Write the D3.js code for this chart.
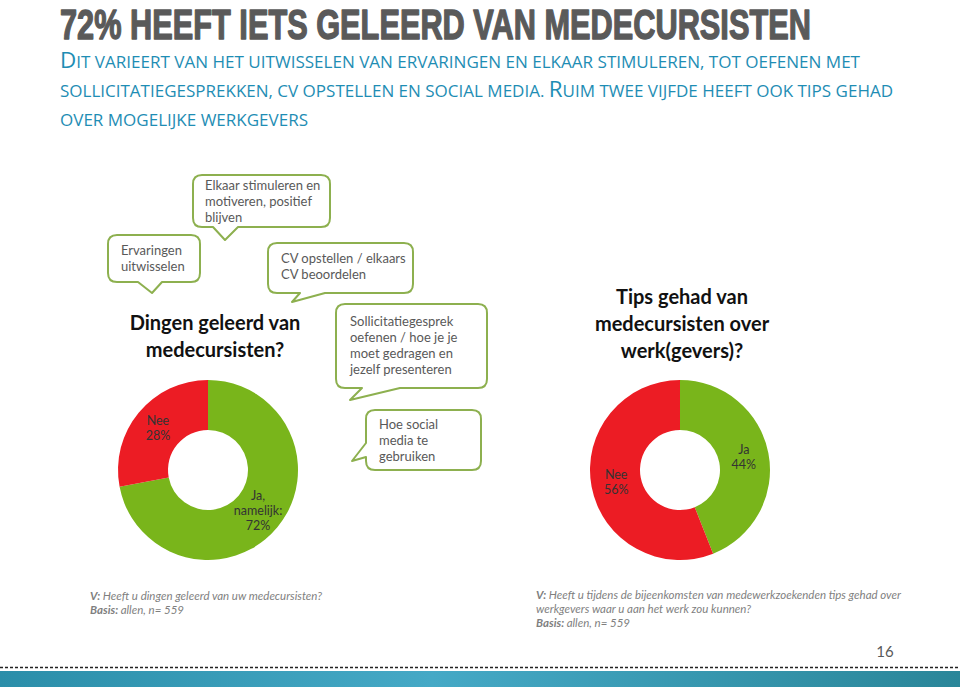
<!DOCTYPE html>
<html><head><meta charset="utf-8">
<script src="https://cdn.jsdelivr.net/npm/d3@7"></script>
<style>
html,body{margin:0;padding:0;background:#fff;}
svg{display:block;}
</style></head>
<body>
<svg id="chart" width="960" height="687"></svg>
<script>
// ---------- DATA ----------
const title = "72% HEEFT IETS GELEERD VAN MEDECURSISTEN";
const subtitleLines = [
  "Dit varieert van het uitwisselen van ervaringen en elkaar stimuleren, tot oefenen met",
  "sollicitatiegesprekken, cv opstellen en social media. Ruim twee vijfde heeft ook tips gehad",
  "over mogelijke werkgevers"
];
const donut1Categories = ["Ja, namelijk:", "Nee"];
const donut1Values = [72, 28];
const donut2Categories = ["Ja", "Nee"];
const donut2Values = [44, 56];
const donut1Title = ["Dingen geleerd van", "medecursisten?"];
const donut2Title = ["Tips gehad van", "medecursisten over", "werk(gevers)?"];
const calloutTexts = [
  ["Elkaar stimuleren en", "motiveren, positief", "blijven"],
  ["Ervaringen", "uitwisselen"],
  ["CV opstellen / elkaars", "CV beoordelen"],
  ["Sollicitatiegesprek", "oefenen / hoe je je", "moet gedragen en", "jezelf presenteren"],
  ["Hoe social", "media te", "gebruiken"]
];
const footLeft = [
  [["V: ", true], ["Heeft u dingen geleerd van uw medecursisten?", false]],
  [["Basis: ", true], ["allen, n= 559", false]]
];
const footRight = [
  [["V: ", true], ["Heeft u tijdens de bijeenkomsten van medewerkzoekenden tips gehad over", false]],
  [["werkgevers waar u aan het werk zou kunnen?", false]],
  [["Basis: ", true], ["allen, n= 559", false]]
];
const pageNumber = "16";

// ---------- STYLE ----------
const GREEN = "#79b51b", RED = "#ec1c24", BORDER = "#8db04f";
const svg = d3.select("#chart");

// defs
const defs = svg.append("defs");
const grad = defs.append("linearGradient").attr("id", "barGrad").attr("x1", "0%").attr("x2", "100%");
grad.append("stop").attr("offset", "0%").attr("stop-color", "#2b8ea9");
grad.append("stop").attr("offset", "45%").attr("stop-color", "#45a9c6");
grad.append("stop").attr("offset", "100%").attr("stop-color", "#2a8699");

// Title: horizontally condensed via transform
const titleG = svg.append("g");
const titleT = titleG.append("text").attr("x", 0).attr("y", 0)
  .attr("font-family", "'Liberation Sans', Arial, sans-serif").attr("font-weight", "bold")
  .attr("font-size", 42).attr("fill", "#5a5a5a")
  .attr("stroke", "#5a5a5a").attr("stroke-width", 1.4).attr("stroke-linejoin", "round")
  .text(title);
const natW = titleT.node().getComputedTextLength();
titleG.attr("transform", `translate(60,38.5) scale(${751 / natW},1)`);

// Subtitle in small caps
const subWidths = [800, 833, 248];
const subBase = [68, 97, 126];
subtitleLines.forEach((line, i) => {
  const t = svg.append("text").attr("x", 60).attr("y", subBase[i])
    .attr("font-family", "'Open Sans', Lato, sans-serif").attr("fill", "#1e8db4")
    .attr("textLength", subWidths[i]).attr("lengthAdjust", "spacingAndGlyphs");
  let runs = [];
  for (const ch of line) {
    const big = ch !== ch.toLowerCase();
    const last = runs[runs.length - 1];
    if (last && last.big === big) last.s += ch; else runs.push({big, s: ch});
  }
  runs.forEach(r => t.append("tspan").attr("font-size", r.big ? 21 : 16).text(r.s.toUpperCase()));
});

// Callouts
const callouts = [
  {x:193, y:175, w:137, h:52, tail:"bottom", b1:213, b2:238, tip:[225,240], tx:205, ty:190},
  {x:108, y:235, w:92, h:47, tail:"bottom", b1:138, b2:162, tip:[152,293], tx:121, ty:255},
  {x:268, y:243, w:145, h:50, tail:"bottom", b1:300, b2:325, tip:[292,302], tx:281, ty:263},
  {x:336, y:304, w:151, h:84, tail:"bottom", b1:362, b2:400, tip:[350,400], tx:350, ty:326},
  {x:366, y:410, w:115, h:60, tail:"left", b1:443, b2:457, tip:[352,461], tx:379, ty:429}
];
function calloutPath(c) {
  const r = 9, x0 = c.x, y0 = c.y, x1 = c.x + c.w, y1 = c.y + c.h;
  const p = d3.path();
  p.moveTo(x0 + r, y0);
  p.lineTo(x1 - r, y0);
  p.quadraticCurveTo(x1, y0, x1, y0 + r);
  p.lineTo(x1, y1 - r);
  p.quadraticCurveTo(x1, y1, x1 - r, y1);
  if (c.tail === "bottom") {
    p.lineTo(c.b2, y1); p.lineTo(c.tip[0], c.tip[1]); p.lineTo(c.b1, y1);
  }
  p.lineTo(x0 + r, y1);
  p.quadraticCurveTo(x0, y1, x0, y1 - r);
  if (c.tail === "left") {
    p.lineTo(x0, c.b2); p.lineTo(c.tip[0], c.tip[1]); p.lineTo(x0, c.b1);
  }
  p.lineTo(x0, y0 + r);
  p.quadraticCurveTo(x0, y0, x0 + r, y0);
  p.closePath();
  return p.toString();
}
callouts.forEach((c, i) => {
  svg.append("path").attr("d", calloutPath(c)).attr("fill", "#fff")
    .attr("stroke", BORDER).attr("stroke-width", 2).attr("stroke-linejoin", "round");
  const t = svg.append("text").attr("font-family", "Lato, 'Open Sans', sans-serif")
    .attr("font-size", 13).attr("fill", "#595959");
  calloutTexts[i].forEach((s, j) => t.append("tspan").attr("x", c.tx).attr("y", c.ty + j * 16).text(s));
});

// Donut headings
function heading(lines, cx, y0, dy) {
  const t = svg.append("text").attr("text-anchor", "middle")
    .attr("font-family", "Lato, 'Open Sans', sans-serif").attr("font-weight", "bold")
    .attr("font-size", 20).attr("fill", "#111");
  lines.forEach((s, j) => t.append("tspan").attr("x", cx).attr("y", y0 + j * dy).text(s));
}
heading(donut1Title, 215, 330, 27);
heading(donut2Title, 682, 304, 27);

// Donuts
function donut(cx, cy, cats, vals) {
  const data = cats.map((c, i) => ({cat: c, val: vals[i]}));
  const pie = d3.pie().value(d => d.val).sort(null);
  const arc = d3.arc().innerRadius(40).outerRadius(90);
  const color = d3.scaleOrdinal().domain(cats).range([GREEN, RED]);
  const g = svg.append("g").attr("transform", `translate(${cx},${cy})`);
  const arcs = pie(data);
  g.selectAll("path").data(arcs).enter().append("path")
    .attr("d", arc).attr("fill", d => color(d.data.cat));
  arcs.forEach(a => {
    const [lx, ly] = arc.centroid(a);
    const words = a.data.cat.split(" ");
    const lines = [...words, a.data.val + "%"];
    const t = g.append("text").attr("text-anchor", "middle")
      .attr("font-family", "Lato, 'Open Sans', sans-serif").attr("font-size", 12.5).attr("fill", "#333");
    const lh = 15;
    const start = ly - (lines.length - 1) * lh / 2 + 4;
    lines.forEach((s, j) => t.append("tspan").attr("x", lx).attr("y", start + j * lh).text(s));
  });
}
donut(208, 470, donut1Categories, donut1Values);
donut(680, 470, donut2Categories, donut2Values);

// Footnotes (one text block per note)
function foot(lines, x, y0) {
  const t = svg.append("text")
    .attr("font-family", "Lato, 'Open Sans', sans-serif").attr("font-style", "italic")
    .attr("font-size", 11.5).attr("fill", "#7f7f7f");
  lines.forEach((parts, j) => {
    parts.forEach(([s, b], k) => {
      const sp = t.append("tspan").attr("font-weight", b ? "bold" : "normal").text(s);
      if (k === 0) sp.attr("x", x).attr("y", y0 + j * 14);
    });
  });
}
foot(footLeft, 90, 600);
foot(footRight, 536, 599);

// Page number
svg.append("text").attr("x", 885).attr("y", 657).attr("text-anchor", "middle")
  .attr("font-family", "Lato, 'Open Sans', sans-serif").attr("font-size", 15).attr("fill", "#595959")
  .text(pageNumber);

// Dotted line and bottom bar
svg.append("line").attr("x1", 0).attr("x2", 960).attr("y1", 667.5).attr("y2", 667.5)
  .attr("stroke", "#222").attr("stroke-width", 1.5).attr("stroke-dasharray", "3,2");
svg.append("rect").attr("x", 0).attr("y", 671).attr("width", 960).attr("height", 16).attr("fill", "url(#barGrad)");
</script>
</body></html>
